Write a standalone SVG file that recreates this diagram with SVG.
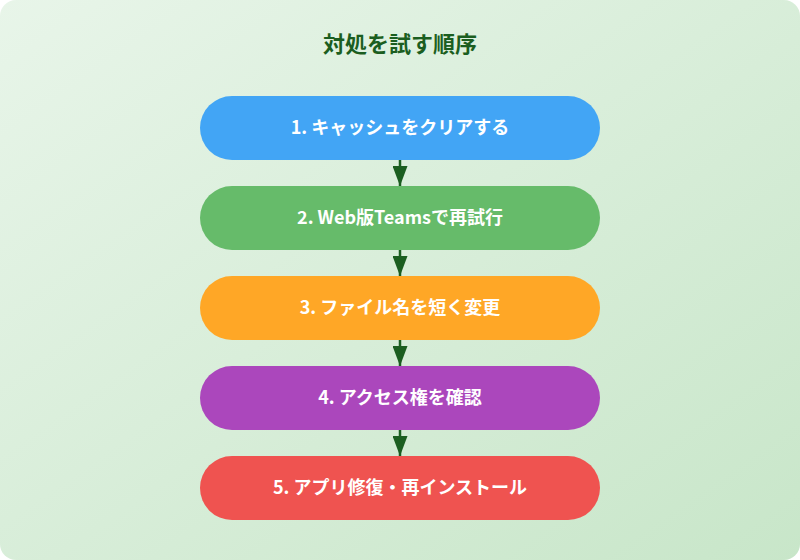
<svg xmlns="http://www.w3.org/2000/svg" width="800" height="560" viewBox="0 0 800 560">
<defs>
<linearGradient id="bg" x1="0" y1="0" x2="1" y2="1"><stop offset="0" stop-color="#e8f5e9"/><stop offset="1" stop-color="#c8e6c9"/></linearGradient>
<marker id="ah" markerWidth="8" markerHeight="6" refX="8" refY="3" orient="auto" markerUnits="strokeWidth"><path d="M0,0 L8,3 L0,6 Z" fill="#1b5e20"/></marker>
<style>
text{font-family:"Noto Sans CJK JP","Noto Sans",sans-serif;font-weight:bold;text-anchor:middle}
.t{fill:#fff;font-size:18px}
.c line{stroke:#1b5e20;stroke-width:2.5}
</style>
</defs>
<rect width="800" height="560" rx="16" fill="url(#bg)"/>
<text x="400" y="52" font-size="22" fill="#1b5e20">対処を試す順序</text>
<g class="c">
<line x1="400" y1="160" x2="400" y2="186" marker-end="url(#ah)"/>
<line x1="400" y1="250" x2="400" y2="276" marker-end="url(#ah)"/>
<line x1="400" y1="340" x2="400" y2="366" marker-end="url(#ah)"/>
<line x1="400" y1="430" x2="400" y2="456" marker-end="url(#ah)"/>
</g>
<g id="n1"><rect x="200" y="96" width="400" height="64" rx="32" fill="#42a5f5"/><text class="t" x="400" y="134">1. キャッシュをクリアする</text></g>
<g id="n2"><rect x="200" y="186" width="400" height="64" rx="32" fill="#66bb6a"/><text class="t" x="400" y="224">2. Web版Teamsで再試行</text></g>
<g id="n3"><rect x="200" y="276" width="400" height="64" rx="32" fill="#ffa726"/><text class="t" x="400" y="314">3. ファイル名を短く変更</text></g>
<g id="n4"><rect x="200" y="366" width="400" height="64" rx="32" fill="#ab47bc"/><text class="t" x="400" y="404">4. アクセス権を確認</text></g>
<g id="n5"><rect x="200" y="456" width="400" height="64" rx="32" fill="#ef5350"/><text class="t" x="400" y="494">5. アプリ修復・再インストール</text></g>
</svg>
